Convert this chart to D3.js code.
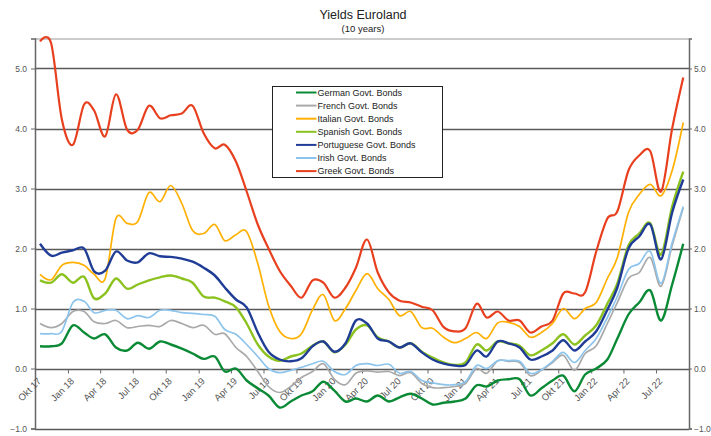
<!DOCTYPE html>
<html>
<head>
<meta charset="utf-8">
<script src="https://cdn.jsdelivr.net/npm/d3@7"></script>
<style>
  html, body { margin: 0; padding: 0; background: #fff; }
  svg { display: block; }
  text { font-family: "Liberation Sans", Arial, sans-serif; }
</style>
</head>
<body>
<svg id="chart" width="711" height="436"></svg>
<script>
// ---------- DATA (monthly, Okt 2017 – Sep 2022) ----------
const startYear = 2017, startMonth = 9; // October 2017
const german = [0.37,0.37,0.42,0.72,0.60,0.50,0.57,0.35,0.30,0.43,0.33,0.45,0.40,0.33,0.25,0.16,0.20,-0.05,0.00,-0.20,
  -0.33,-0.45,-0.65,-0.55,-0.45,-0.38,-0.22,-0.37,-0.55,-0.50,-0.55,-0.45,-0.55,-0.48,-0.42,-0.50,-0.60,-0.57,-0.55,-0.50,
  -0.28,-0.30,-0.20,-0.18,-0.18,-0.45,-0.33,-0.20,-0.12,-0.38,-0.10,0.00,0.15,0.50,0.90,1.10,1.30,0.80,1.40,2.08];
const french = [0.75,0.68,0.75,0.95,0.95,0.78,0.75,0.80,0.68,0.70,0.72,0.70,0.80,0.75,0.68,0.72,0.57,0.58,0.35,0.20,
  -0.05,-0.30,-0.40,-0.30,-0.15,-0.05,0.08,-0.18,-0.27,-0.08,-0.04,-0.06,-0.05,-0.12,-0.07,-0.25,-0.32,-0.32,-0.30,-0.25,
  0.00,-0.08,0.13,0.12,0.10,-0.12,-0.03,0.10,0.22,-0.03,0.25,0.38,0.75,1.10,1.50,1.60,1.85,1.37,2.05,2.68];
const italian = [1.57,1.48,1.72,1.77,1.72,1.57,1.50,2.50,2.42,2.45,2.93,2.78,3.05,2.75,2.30,2.25,2.40,2.13,2.23,2.28,
  1.75,1.05,0.62,0.50,0.58,0.98,1.23,0.80,1.00,1.30,1.58,1.33,1.15,0.88,0.95,0.68,0.67,0.52,0.43,0.50,
  0.60,0.50,0.76,0.77,0.70,0.52,0.60,0.75,1.00,0.83,1.00,1.10,1.50,1.85,2.60,2.90,3.07,2.88,3.30,4.10];
const spanish = [1.47,1.43,1.57,1.43,1.53,1.17,1.25,1.50,1.33,1.40,1.47,1.52,1.55,1.50,1.43,1.20,1.18,1.12,1.02,0.75,
  0.40,0.20,0.13,0.20,0.25,0.38,0.45,0.27,0.40,0.65,0.72,0.52,0.45,0.35,0.42,0.28,0.18,0.10,0.06,0.10,
  0.40,0.30,0.45,0.42,0.38,0.22,0.30,0.42,0.57,0.40,0.55,0.72,1.08,1.42,2.05,2.25,2.42,1.90,2.70,3.28];
const portuguese = [2.08,1.88,1.93,1.97,2.00,1.62,1.63,1.95,1.80,1.77,1.92,1.87,1.86,1.83,1.78,1.68,1.55,1.35,1.15,1.02,
  0.60,0.28,0.15,0.12,0.17,0.37,0.45,0.28,0.42,0.80,0.75,0.50,0.45,0.35,0.42,0.27,0.15,0.08,0.05,0.06,
  0.30,0.20,0.45,0.42,0.35,0.15,0.20,0.30,0.47,0.30,0.45,0.62,0.98,1.35,2.00,2.20,2.40,1.82,2.60,3.15];
const irish = [0.58,0.58,0.62,1.10,1.12,0.93,0.97,0.97,0.83,0.88,0.85,0.97,0.97,0.93,0.92,0.90,0.87,0.65,0.57,0.40,
  0.20,0.00,-0.07,-0.03,0.02,0.08,0.12,-0.05,-0.10,0.05,0.08,0.05,0.07,-0.08,-0.05,-0.20,-0.24,-0.27,-0.27,-0.22,
  0.05,0.00,0.13,0.13,0.12,-0.08,-0.02,0.12,0.27,0.10,0.30,0.50,0.85,1.20,1.65,1.75,1.95,1.42,2.10,2.70];
const greek = [5.45,5.42,4.15,3.73,4.40,4.30,3.87,4.57,3.98,3.98,4.38,4.17,4.22,4.25,4.38,3.92,3.67,3.73,3.45,2.95,
  2.40,2.00,1.63,1.38,1.18,1.47,1.43,1.18,1.35,1.68,2.15,1.60,1.27,1.13,1.10,1.03,0.97,0.69,0.62,0.67,
  1.08,0.85,0.95,0.80,0.80,0.60,0.70,0.80,1.25,1.25,1.27,1.95,2.50,2.62,3.30,3.55,3.62,2.95,4.00,4.85];

const seriesNames = ["German Govt. Bonds","French Govt. Bonds","Italian Govt. Bonds","Spanish Govt. Bonds",
  "Portuguese Govt. Bonds","Irish Govt. Bonds","Greek Govt. Bonds"];
const seriesValues = [german, french, italian, spanish, portuguese, irish, greek];
const seriesColors = ["#0b8a36","#a9a9a9","#ffb000","#8cc21f","#1f3d96","#8dc4ec","#e8401e"];
const seriesWidths = [2.4, 1.7, 1.7, 2.4, 2.4, 1.7, 2.2];

const yTicks = [-1, 0, 1, 2, 3, 4, 5];
const xTickLabels = ["Okt 17","Jan 18","Apr 18","Jul 18","Okt 18","Jan 19","Apr 19","Jul 19","Okt 19","Jan 20",
  "Apr 20","Jul 20","Okt 20","Jan 21","Apr 21","Jul 21","Okt 21","Jan 22","Apr 22","Jul 22"];

const title = "Yields Euroland";
const subtitle = "(10 years)";

// ---------- CHART ----------
(function () {
const svg = d3.select("#chart");
const mLeft = 35, mRight = 689, mTop = 38.5, mBottom = 428.5;

const dates = german.map((_, i) => new Date(startYear, startMonth + i, 15));
const x = d3.scaleTime()
  .domain([new Date(2017, 9, 1), new Date(2022, 9, 1)])
  .range([mLeft, mRight]);
const y = d3.scaleLinear().domain([-1, 5.5]).range([mBottom, mTop]);

// title
svg.append("text").attr("x", 363).attr("y", 19).attr("text-anchor", "middle")
  .attr("font-size", 12.5).attr("fill", "#222").text(title);
svg.append("text").attr("x", 363).attr("y", 31.5).attr("text-anchor", "middle")
  .attr("font-size", 9.5).attr("fill", "#222").text(subtitle);

// gridlines
svg.append("g").selectAll("line").data(yTicks).join("line")
  .attr("x1", mLeft).attr("x2", mRight)
  .attr("y1", d => Math.round(y(d)) + 0.5).attr("y2", d => Math.round(y(d)) + 0.5)
  .attr("stroke", "#5a5a5a").attr("stroke-width", 1.3);

// top frame
svg.append("line").attr("x1", mLeft).attr("x2", mRight).attr("y1", mTop + 0.5).attr("y2", mTop + 0.5)
  .attr("stroke", "#999").attr("stroke-width", 1.2);

const fontFam = '"Liberation Sans", Arial, sans-serif';

// left axis
const yAxisL = d3.axisLeft(y).tickValues(yTicks).tickFormat(d3.format(".1f")).tickSize(4).tickPadding(4);
const gL = svg.append("g").attr("transform", `translate(${mLeft},0)`).call(yAxisL);
gL.select(".domain").attr("stroke", "#666").attr("stroke-width", 1.5);
gL.selectAll(".tick line").attr("stroke", "#666");
gL.selectAll("text").attr("font-size", 8.5).attr("fill", "#555").attr("font-family", fontFam);

// right axis
const yAxisR = d3.axisRight(y).tickValues(yTicks).tickFormat(d3.format(".1f")).tickSize(3).tickPadding(2);
const gR = svg.append("g").attr("transform", `translate(${mRight},0)`).call(yAxisR);
gR.select(".domain").attr("stroke", "#666").attr("stroke-width", 1.5);
gR.selectAll(".tick line").attr("stroke", "#666");
gR.selectAll("text").attr("font-size", 8.5).attr("fill", "#555").attr("font-family", fontFam);

// x axis at zero
const xTickDates = xTickLabels.map((_, i) => new Date(2017, 9 + 3 * i, 1));
const xAxis = d3.axisBottom(x).tickValues(xTickDates).tickFormat((d, i) => xTickLabels[i]).tickSize(4).tickPadding(2);
const gX = svg.append("g").attr("transform", `translate(0,${Math.round(y(0)) + 0.5})`).call(xAxis);
gX.select(".domain").remove();
gX.selectAll(".tick line").attr("stroke", "#666");
gX.selectAll("text")
  .attr("font-size", 9.5).attr("fill", "#555").attr("font-family", fontFam)
  .attr("text-anchor", "end")
  .attr("transform", "translate(4,10) rotate(-45)")
  .attr("dy", "0.35em").attr("y", 0).attr("x", 0);

// lines
const line = d3.line().x((d, i) => x(dates[i])).y(d => y(d)).curve(d3.curveCardinal.tension(0));
svg.append("g").selectAll("path").data(seriesValues).join("path")
  .attr("d", d => line(d))
  .attr("fill", "none")
  .attr("stroke", (d, i) => seriesColors[i])
  .attr("stroke-width", (d, i) => seriesWidths[i])
  .attr("stroke-linejoin", "round");

// legend
const lg = svg.append("g").attr("transform", "translate(272.5,86.5)");
lg.append("rect").attr("width", 170).attr("height", 91).attr("fill", "#fff").attr("stroke", "#222").attr("stroke-width", 1);
const items = lg.selectAll("g.item").data(seriesNames).join("g").attr("class", "item")
  .attr("transform", (d, i) => `translate(0,${6 + 13.1 * i})`);
items.append("line").attr("x1", 23.5).attr("x2", 44).attr("y1", 0).attr("y2", 0)
  .attr("stroke", (d, i) => seriesColors[i]).attr("stroke-width", 2);
items.append("text").attr("x", 45).attr("y", 0).attr("dy", "0.35em")
  .attr("font-size", 9).attr("fill", "#222").text(d => d);
})();
</script>
</body>
</html>
